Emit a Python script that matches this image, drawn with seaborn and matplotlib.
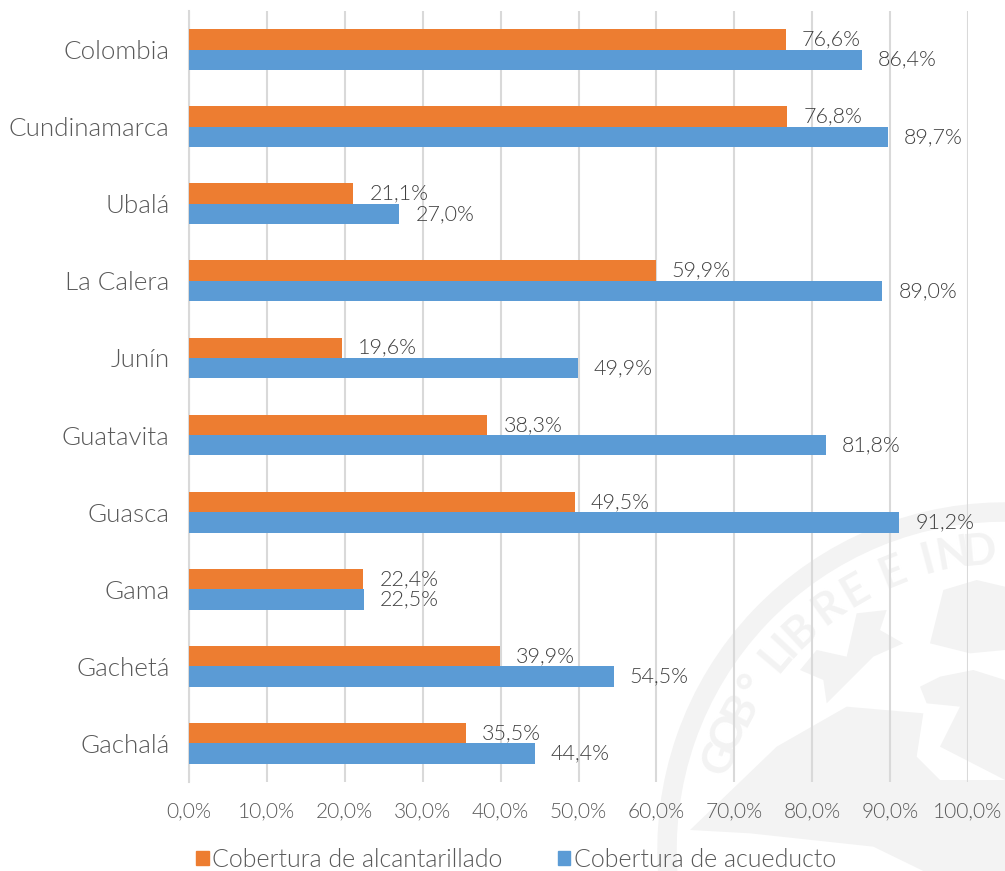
import matplotlib
matplotlib.use("Agg")
import matplotlib.pyplot as plt
import seaborn as sns
import pandas as pd
import numpy as np
from matplotlib.ticker import FuncFormatter, MultipleLocator
from matplotlib.patches import Patch, Arc, Polygon

categories = ["Colombia", "Cundinamarca", "Ubalá", "La Calera", "Junín",
              "Guatavita", "Guasca", "Gama", "Gachetá", "Gachalá"]
alcantarillado = [76.6, 76.8, 21.1, 59.9, 19.6, 38.3, 49.5, 22.4, 39.9, 35.5]
acueducto = [86.4, 89.7, 27.0, 89.0, 49.9, 81.8, 91.2, 22.5, 54.5, 44.4]
series_names = ["Cobertura de alcantarillado", "Cobertura de acueducto"]
palette = ["#ED7D31", "#5B9BD5"]
seal_letters = list("GOB°LIBREEIND")
seal_angles = [162, 157, 152, 147, 140, 137, 133, 126, 120, 112, 105, 100, 95]
seal_shapes = [
    [(150,1050),(410,800),(620,680),(850,700),(830,830),(900,900),(1095,900),(1095,1173),(850,1173),(700,1100),(330,1060)],
    [(840,620),(900,590),(1000,570),(1095,600),(1095,900),(900,800),(960,680),(860,670)],
    [(870,490),(910,330),(1010,300),(1095,320),(1095,510),(990,520)],
    [(480,570),(530,510),(620,530),(650,400),(740,390),(720,450),(790,490),(700,530),(640,590),(560,670),(550,600)],
]

df = pd.DataFrame({"cat": categories, series_names[0]: alcantarillado, series_names[1]: acueducto})
long = df.melt(id_vars="cat", var_name="serie", value_name="v")

sns.set_style("white")
plt.rcParams["font.family"] = ["Lato", "DejaVu Sans"]
txt = "#595959"
seal = "#F3F3F3"
W, H = 1005, 871
fig = plt.figure(figsize=(W/100, H/100), dpi=100)

# faint seal behind the chart, in pixel coordinates
bg = fig.add_axes([0, 0, 1, 1], zorder=0)
bg.set_xlim(0, W); bg.set_ylim(H, 0); bg.axis("off")
cx, cy = 1005, 850
bg.add_patch(Arc((cx, cy), 676, 676, theta1=175, theta2=272, color=seal, lw=14))
for ch, a in zip(seal_letters, seal_angles):
    r = 300
    t = np.deg2rad(a)
    bg.text(cx + r*np.cos(t), cy - r*np.sin(t), ch, rotation=a-90, rotation_mode="anchor",
            ha="center", va="center", fontsize=32, color=seal, fontweight="bold")
for shape in seal_shapes:
    pts = [(640 + x/3, 480 + y/3) for x, y in shape]
    bg.add_patch(Polygon(pts, closed=True, facecolor=seal, edgecolor="none"))

ax = fig.add_axes([189/W, 1-782/H, (968-189)/W, (782-11)/H], zorder=1)
ax.patch.set_alpha(0)
sns.barplot(data=long, y="cat", x="v", hue="serie", order=categories, hue_order=series_names,
            palette=palette, saturation=1, width=0.53, gap=0, ax=ax, legend=False, zorder=3, linewidth=0)
ax.set_xlim(0, 100)
ax.set_ylim(9.5, -0.5)
ax.xaxis.set_major_locator(MultipleLocator(10))
ax.xaxis.set_major_formatter(FuncFormatter(lambda v, p: f"{v:.1f}%".replace(".", ",")))
ax.grid(axis="x", color="#D9D9D9", lw=1.5, zorder=0)
ax.set_axisbelow(True)
ax.set_xlabel(""); ax.set_ylabel("")
for s in ["top", "right", "bottom"]:
    ax.spines[s].set_visible(False)
ax.spines["left"].set_color("#D9D9D9")
ax.spines["left"].set_linewidth(1.5)
ax.tick_params(axis="x", length=0, labelsize=15, labelcolor=txt, pad=14)
ax.tick_params(axis="y", length=0, labelsize=18.7, labelcolor=txt, pad=14)
for l in ax.get_xticklabels() + ax.get_yticklabels():
    l.set_fontweight(300)
for c in ax.containers:
    for bar, val in zip(c, c.datavalues):
        ax.annotate(f"{val:.1f}%".replace(".", ","),
                    (val, bar.get_y() + bar.get_height()/2), xytext=(16, 0),
                    textcoords="offset pixels",
                    va="center", ha="left", fontsize=15.5, color="#404040", zorder=5, fontweight=300)
handles = [Patch(color=c, label=n) for c, n in zip(palette, series_names)]
leg = fig.legend(handles=handles, loc="center left", bbox_to_anchor=(196/W, 1-860/H), ncol=2, frameon=False,
           fontsize=18, labelcolor=txt, handlelength=0.5, handleheight=0.5, handletextpad=0.15,
           columnspacing=2.2, borderpad=0, borderaxespad=0)
for t in leg.get_texts():
    t.set_fontweight(300)
fig.savefig("out.png", dpi=100, facecolor="white")
